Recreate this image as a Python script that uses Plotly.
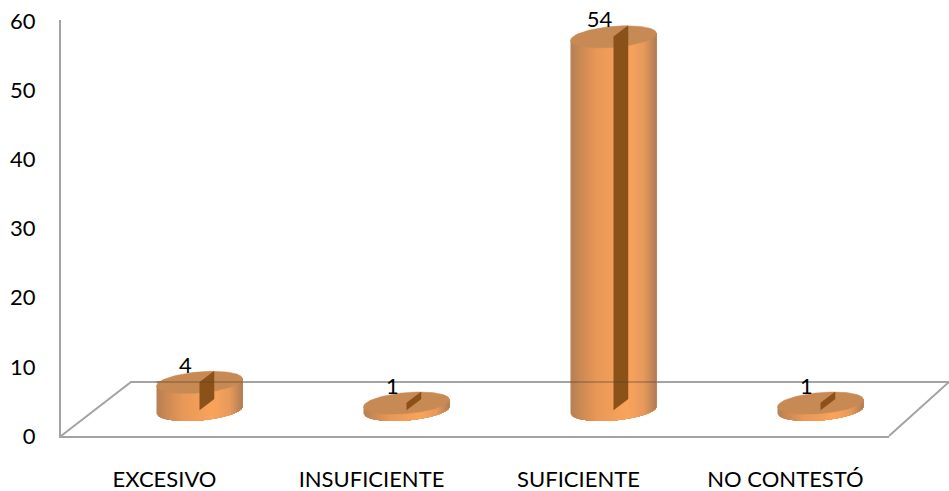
import numpy as np
import plotly.graph_objects as go

categories = ["EXCESIVO", "INSUFICIENTE", "SUFICIENTE", "NO CONTESTÓ"]
values = [4, 1, 54, 1]
y_ticks = [0, 10, 20, 30, 40, 50, 60]

# 3D look, in axis units
PX_X, PX_Y = 207.0, 6.91
cx_off = 35 / PX_X
base = 26 / PX_Y
a = 43 / PX_X
b = 10.5 / PX_Y
tilt = 3.5 / PX_Y
slit_dx = 14.5 / PX_X
slit_dy = 11 / PX_Y
FLOOR_BACK = 54 / PX_Y

# floor outline, as fractions of the plot area (it runs past the right end of the axis)
floor_paper_x = [0, 70 / 828, 888 / 828, 1]
floor_paper_y = [0, 54 / 416, 54 / 416, 0]

stops_u = [-1, -0.75, -0.4, 0.3, 0.7, 1]
stops_c = np.array([[182, 128, 84], [205, 138, 84], [232, 152, 88],
                    [250, 164, 92], [232, 155, 92], [176, 124, 84]], float)
CAP = "#c78a55"
SLIT = "#8a5119"
AXIS = "#a3a3a3"
FONT = "Lato"


def color(u):
    return "rgb(%d,%d,%d)" % tuple(np.interp(u, stops_u, stops_c[:, i]) for i in range(3))


fig = go.Figure()


def poly(x, y, fill, width=1.0):
    fig.add_trace(go.Scatter(x=x, y=y, mode="lines", fill="toself", fillcolor=fill,
                             line=dict(color=fill, width=width), cliponaxis=False,
                             hoverinfo="skip", showlegend=False))


for i, v in enumerate(values):
    cx = i + cx_off
    top = base + v
    # body as thin vertical strips, each painted from its left edge to the right rim
    # so neighbouring strips overlap and leave no seams
    edges = np.linspace(-1, 1, 45)
    for u0, u1 in zip(edges[:-1], edges[1:]):
        us = np.linspace(u0, 1, 60)
        low = base + tilt * us - b * np.sqrt(np.clip(1 - us ** 2, 0, 1))
        high = top + tilt * us
        poly(list(cx + a * us) + list(cx + a * us[::-1]),
             list(low) + list(high[::-1]), color((u0 + u1) / 2), 0)
    # cap
    t = np.linspace(0, 2 * np.pi, 90)
    poly(cx + a * np.cos(t), top + tilt * np.cos(t) + b * np.sin(t), CAP, 0.5)
    # inner slit
    poly([cx, cx + slit_dx, cx + slit_dx, cx],
         [top, top + slit_dy, base + slit_dy, base], SLIT, 0.5)
    # back floor line showing through the cylinder
    if top + b > FLOOR_BACK:
        fig.add_trace(go.Scatter(x=[cx - a, cx + a], y=[FLOOR_BACK] * 2, mode="lines",
                                 line=dict(color="rgba(95,65,45,0.35)", width=2),
                                 cliponaxis=False, hoverinfo="skip", showlegend=False))

# data labels
fig.add_trace(go.Scatter(
    x=[i + cx_off - 14 / PX_X for i in range(len(values))],
    y=[v + base + 15 / PX_Y for v in values],
    text=[str(v) for v in values], mode="text", textposition="middle center",
    textfont=dict(family=FONT, size=22, color="#000000"),
    cliponaxis=False, hoverinfo="skip", showlegend=False))

floor_path = "M " + " L ".join(f"{x:.5f},{y:.5f}" for x, y in zip(floor_paper_x, floor_paper_y))

fig.update_layout(
    template="none",
    width=949, height=491, autosize=False,
    margin=dict(l=61, r=60, t=20, b=55, pad=0),
    paper_bgcolor="white", plot_bgcolor="white",
    showlegend=False,
    shapes=[dict(type="path", path=floor_path, xref="paper", yref="paper", layer="below",
                 line=dict(color=AXIS, width=2))],
    xaxis=dict(range=[-0.5, 3.5], tickmode="array", tickvals=list(range(4)), ticktext=categories,
               automargin=False,
               showgrid=False, zeroline=False, showline=True, linecolor=AXIS, linewidth=2,
               ticks="", ticklabelstandoff=23, tickfont=dict(family=FONT, size=22, color="#000000")),
    yaxis=dict(range=[0, 60.2], tickmode="array", tickvals=y_ticks,
               automargin=False,
               showgrid=False, zeroline=False, showline=True, linecolor=AXIS, linewidth=2,
               ticks="", ticklabelstandoff=19, tickfont=dict(family=FONT, size=22, color="#000000")),
)
fig.write_html("out.html", config={"displayModeBar": False},
               post_script="document.body.style.margin='0';document.documentElement.style.overflow='hidden';")
